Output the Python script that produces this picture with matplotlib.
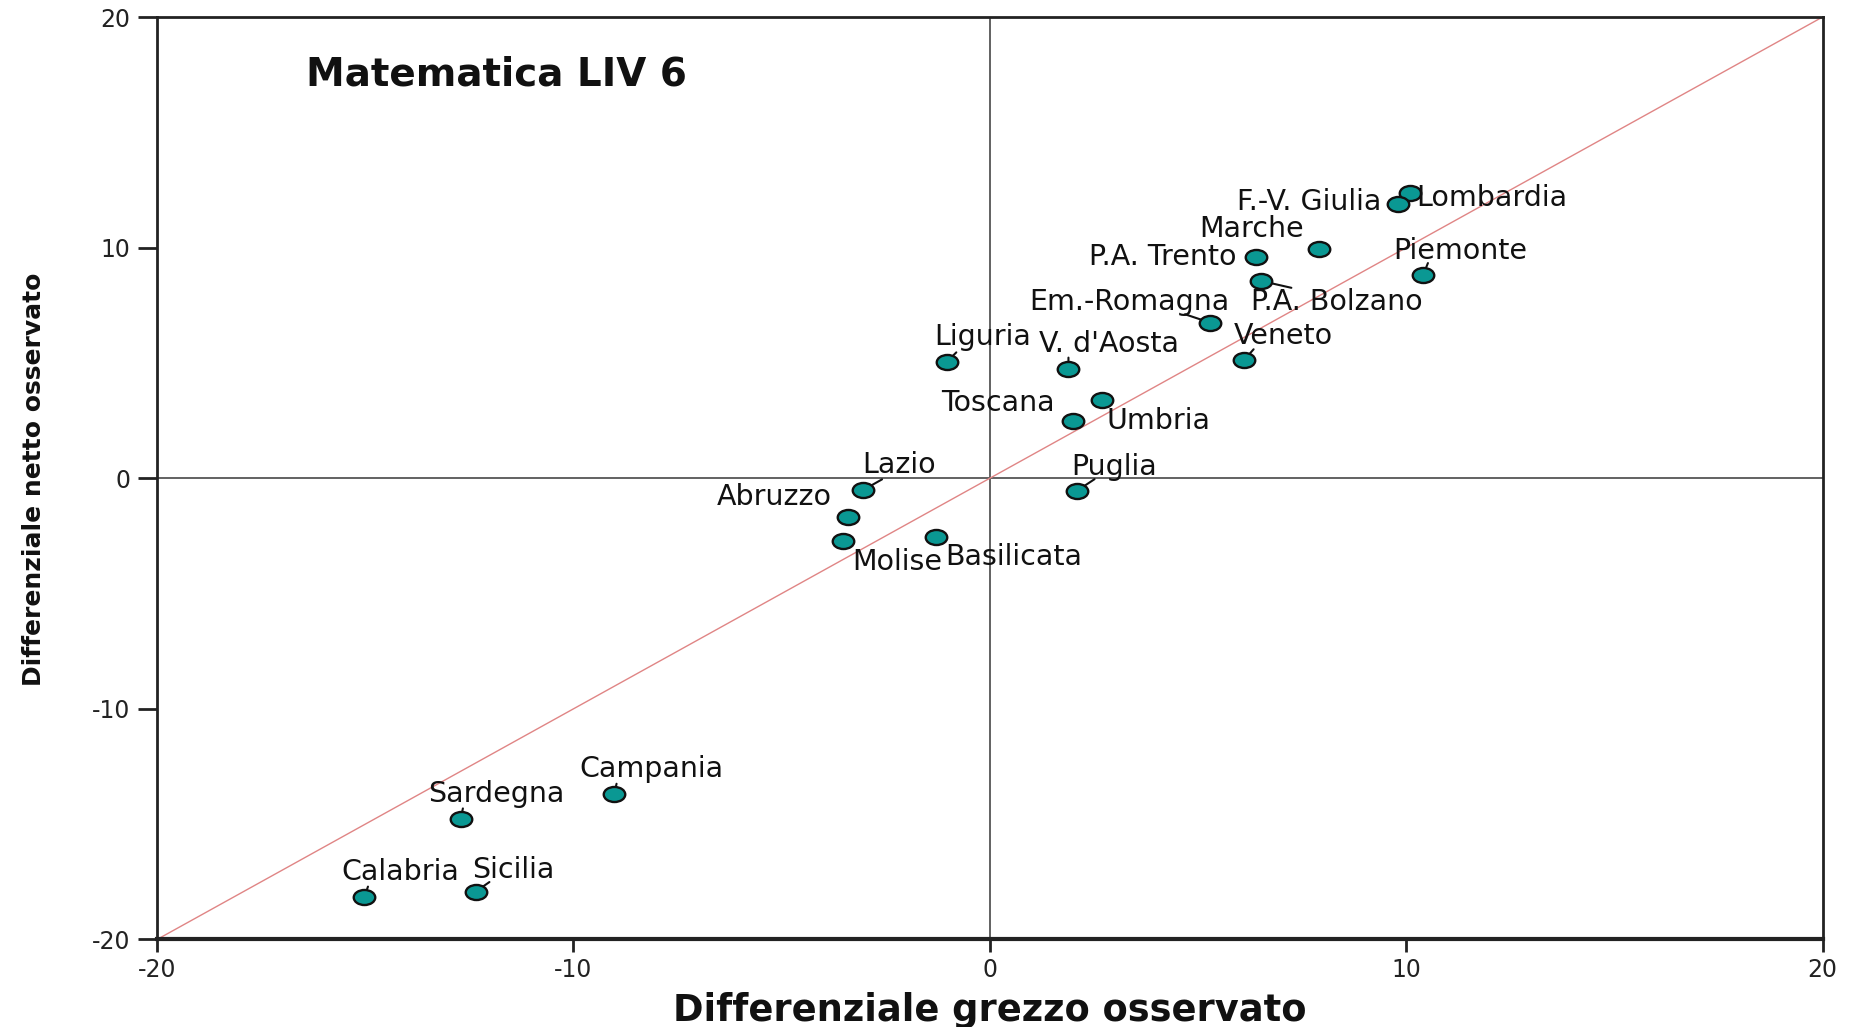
import matplotlib
matplotlib.use('Agg')
from matplotlib import pyplot as plt
from matplotlib.path import Path
from matplotlib.transforms import Affine2D

plt.rcParams['font.family'] = ['DejaVu Sans']
plt.rcParams['axes.unicode_minus'] = False

# regioni, differenziale grezzo (x) e netto (y)
regioni = ['Lombardia', 'F.-V. Giulia', 'Marche', 'P.A. Trento', 'P.A. Bolzano',
           'Piemonte', 'Em.-Romagna', 'Veneto', 'Liguria', "V. d'Aosta",
           'Toscana', 'Umbria', 'Lazio', 'Abruzzo', 'Molise', 'Basilicata',
           'Puglia', 'Campania', 'Sardegna', 'Calabria', 'Sicilia']
grezzo = [10.09, 9.81, 7.90, 6.40, 6.51, 10.41, 5.29, 6.11, -1.03, 1.89,
          2.69, 1.99, -3.04, -3.41, -3.52, -1.30, 2.09, -9.02, -12.71, -15.02, -12.35]
netto = [12.35, 11.90, 9.95, 9.59, 8.56, 8.82, 6.75, 5.13, 5.05, 4.72,
         3.39, 2.50, -0.51, -1.67, -2.72, -2.53, -0.55, -13.71, -14.78, -18.17, -17.93]
ticks = [-20, -10, 0, 10, 20]

# posizione etichette (offset in punti) e trattini di collegamento
label_off = [(59, -3), (-64, 1), (-48, 14), (-67, 0), (55, -15),
             (27, 17), (-58, 15), (28, 17), (26, 18), (29, 18),
             (-75, -2), (62, 0), (26, 18), (-53, 14), (39, -15), (56, -15),
             (27, 17), (27, 18), (26, 18), (26, 18), (27, 16)]
leader_off = [None, None, None, None, (22, -5),
              (3.4, 8.5), (-18, 6), (6.8, 7.7), (6.8, 6.8), (0, 8.5),
              None, None, (13.6, 7.7), None, None, None,
              (12.8, 8.5), (1.7, 7.7), (1.7, 7.7), (2.6, 7.7), (10, 7)]

fig = plt.figure(figsize=(18.58, 10.27), dpi=100)
ax = fig.add_axes([0.0845, 0.0852, 0.8964, 0.8982])

ax.set_xlim(-20, 20)
ax.set_ylim(-20, 20)
ax.axhline(0, color='#555555', lw=1.3, zorder=1)
ax.axvline(0, color='#555555', lw=1.3, zorder=1)
ax.axline((0, 0), slope=1, color='#e08585', lw=1.0, zorder=1)

ellipse = Path.unit_circle().transformed(Affine2D().scale(1.0, 0.7))
ax.scatter(grezzo, netto, s=240, marker=ellipse, c='#0a9893',
           edgecolors='#111111', linewidths=1.7, zorder=3)

for i, nome in enumerate(regioni):
    ax.annotate(nome, (grezzo[i], netto[i]), xytext=label_off[i],
                textcoords='offset points', ha='center', va='center',
                fontsize=20.5, color='#111111', zorder=4)
    if leader_off[i] is not None:
        ax.annotate('', (grezzo[i], netto[i]), xytext=leader_off[i],
                    textcoords='offset points',
                    arrowprops=dict(arrowstyle='-', lw=1.5, color='#111111',
                                    shrinkA=0, shrinkB=0), zorder=2)

ax.text(0.0895, 0.9376, 'Matematica LIV 6', transform=ax.transAxes,
        ha='left', va='center', fontsize=28, fontweight='bold', color='#111111')

ax.set_xticks(ticks)
ax.set_yticks(ticks)
ax.tick_params(axis='x', direction='out', length=9.5, width=2, pad=4,
               labelsize=17, colors='#222222')
ax.tick_params(axis='y', direction='out', length=14, width=2, pad=5,
               labelsize=17, colors='#222222')
for side in ['left', 'right', 'top']:
    ax.spines[side].set_linewidth(2)
    ax.spines[side].set_color('#222222')
ax.spines['bottom'].set_linewidth(3)
ax.spines['bottom'].set_color('#222222')

ax.set_xlabel('Differenziale grezzo osservato', fontsize=26.5, fontweight='bold',
              va='center', color='#111111')
ax.xaxis.set_label_coords(0.5, -0.0775)
ax.set_ylabel('Differenziale netto osservato', fontsize=18, fontweight='bold',
              va='center', color='#111111')
ax.yaxis.set_label_coords(-0.074, 0.499)

fig.savefig('out.png', dpi=100)
